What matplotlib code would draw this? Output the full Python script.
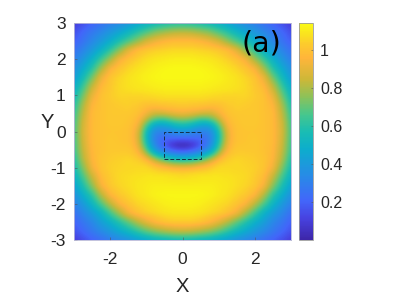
import numpy as np
import matplotlib
matplotlib.use("Agg")
import matplotlib.pyplot as plt
from matplotlib.colors import LinearSegmentedColormap
from matplotlib.patches import Rectangle

plt.rcParams['font.family'] = ['Liberation Sans', 'DejaVu Sans']

half_x = [0, .25, .5, .75, 1, 1.25, 1.5, 1.75, 2, 2.25, 2.5, 2.75, 3]
rows_y = [3, 2.75, 2.5, 2.25, 2, 1.75, 1.5, 1.25, 1, .75, .5, .25, 0, -.25, -.5, -.75, -1,
          -1.25, -1.5, -1.75, -2, -2.25, -2.5, -2.75, -3]
field_right = [
 [.60,.59,.57,.54,.50,.45,.39,.34,.30,.25,.20,.15,.10],
 [.82,.81,.78,.74,.67,.60,.52,.45,.39,.33,.28,.22,.15],
 [.98,.98,.96,.92,.86,.76,.67,.58,.48,.40,.33,.26,.19],
 [1.06,1.06,1.05,1.04,1.02,.98,.89,.75,.62,.50,.40,.32,.25],
 [1.11,1.11,1.10,1.09,1.07,1.04,1.0,.93,.78,.64,.50,.39,.30],
 [1.135,1.135,1.13,1.12,1.10,1.08,1.05,1.01,.94,.78,.60,.47,.36],
 [1.135,1.135,1.135,1.13,1.12,1.10,1.08,1.05,1.01,.91,.72,.55,.41],
 [1.12,1.12,1.12,1.11,1.10,1.09,1.08,1.06,1.02,.97,.83,.64,.48],
 [1.08,1.08,1.08,1.08,1.07,1.07,1.06,1.05,1.03,1.0,.91,.72,.54],
 [1.03,1.03,1.02,1.0,1.0,1.03,1.04,1.03,1.02,1.0,.96,.79,.59],
 [.93,.91,.87,.85,.93,1.0,1.02,1.02,1.02,1.0,.98,.83,.63],
 [.66,.62,.54,.55,.74,.96,1.01,1.02,1.02,1.0,.98,.86,.65],
 [.40,.36,.31,.33,.58,.90,1.0,1.01,1.01,1.0,.98,.87,.66],
 [.14,.16,.20,.30,.57,.90,1.0,1.01,1.02,1.0,.98,.86,.65],
 [.14,.18,.27,.41,.68,.95,1.02,1.02,1.02,1.0,.97,.84,.64],
 [.52,.55,.62,.76,.94,1.03,1.05,1.04,1.03,1.01,.96,.81,.60],
 [.93,.94,.98,1.02,1.06,1.06,1.06,1.05,1.04,1.01,.93,.74,.56],
 [1.07,1.07,1.08,1.09,1.09,1.08,1.07,1.06,1.03,.98,.84,.66,.50],
 [1.11,1.11,1.11,1.11,1.10,1.09,1.07,1.05,1.02,.94,.75,.58,.44],
 [1.13,1.13,1.13,1.12,1.10,1.08,1.05,1.02,.96,.81,.62,.49,.37],
 [1.12,1.12,1.11,1.09,1.07,1.05,1.01,.95,.82,.67,.52,.40,.31],
 [1.09,1.09,1.08,1.06,1.04,1.0,.93,.79,.65,.51,.41,.33,.25],
 [1.03,1.03,1.01,.97,.90,.81,.70,.60,.50,.42,.33,.27,.20],
 [.84,.83,.80,.76,.70,.62,.54,.47,.40,.34,.28,.22,.16],
 [.55,.54,.52,.50,.46,.42,.37,.33,.29,.24,.20,.15,.10],
]
core_x = [0, .125, .25, .375, .5, .625, .75, .875, 1, 1.125, 1.25, 1.375, 1.5]
core_y = [1, .875, .75, .625, .5, .375, .25, .125, 0, -.125, -.25, -.375, -.5, -.625, -.75, -.875, -1, -1.125, -1.25]
core_right = [
 [1.08,1.08,1.08,1.08,1.08,1.07,1.07,1.06,1.06,1.05,1.05,1.05,1.05],
 [1.05,1.05,1.05,1.05,1.05,1.05,1.04,1.04,1.04,1.04,1.04,1.04,1.04],
 [1.03,1.03,1.02,1.02,1.01,1.01,1.0,1.0,1.0,1.01,1.03,1.03,1.04],
 [.98,.98,.97,.97,.96,.95,.94,.95,.97,.99,1.01,1.02,1.03],
 [.92,.91,.90,.88,.86,.85,.85,.88,.93,.97,1.0,1.01,1.02],
 [.79,.78,.76,.73,.70,.70,.72,.77,.85,.93,.98,1.0,1.01],
 [.64,.63,.61,.57,.54,.53,.56,.63,.74,.87,.96,.99,1.01],
 [.51,.50,.47,.43,.41,.40,.42,.51,.64,.80,.93,.98,1.0],
 [.38,.38,.36,.33,.32,.32,.34,.43,.58,.75,.90,.97,1.0],
 [.27,.27,.26,.25,.25,.27,.31,.40,.56,.73,.89,.97,1.0],
 [.14,.14,.16,.17,.20,.24,.30,.41,.57,.74,.90,.97,1.0],
 [.03,.04,.07,.12,.19,.25,.33,.45,.61,.78,.92,.98,1.01],
 [.14,.15,.18,.22,.27,.32,.41,.53,.68,.84,.95,1.0,1.02],
 [.32,.33,.35,.38,.42,.48,.56,.67,.80,.92,.99,1.02,1.03],
 [.52,.53,.55,.58,.62,.68,.76,.85,.94,1.0,1.03,1.04,1.05],
 [.74,.75,.76,.79,.83,.87,.92,.98,1.02,1.04,1.05,1.05,1.06],
 [.93,.93,.94,.96,.98,1.0,1.02,1.04,1.06,1.06,1.06,1.06,1.06],
 [1.03,1.04,1.04,1.05,1.05,1.05,1.06,1.07,1.07,1.07,1.07,1.06,1.06],
 [1.07,1.07,1.08,1.08,1.09,1.09,1.09,1.09,1.09,1.08,1.08,1.08,1.07],
]
x_ticks = [-2, 0, 2]
y_ticks = [-3, -2, -1, 0, 1, 2, 3]
cbar_ticks = [.2, .4, .6, .8, 1]
cbar_labels = ['0.2', '0.4', '0.6', '0.8', '1']
box_x = [-.5, .5]
box_y = [-.75, 0]

parula = LinearSegmentedColormap.from_list('parula', [
 (0.00, (.24,.15,.66)), (0.10, (.28,.26,.88)), (0.18, (.26,.40,.98)),
 (0.30, (.15,.55,.90)), (0.42, (.05,.68,.80)), (0.50, (.10,.74,.70)),
 (0.58, (.28,.78,.55)), (0.66, (.55,.76,.35)), (0.74, (.80,.72,.22)),
 (0.84, (1.0,.71,.23)), (0.90, (.99,.79,.18)), (0.95, (.98,.89,.12)), (1.00, (.98,.98,.08))], N=256)

# place the coarse table and the finer centre table on one 0.125-step image
fine_x = np.arange(0, 3.0001, .125)
fine_y = np.arange(3, -3.0001, -.125)
coarse = np.array(field_right)
by_col = np.array([np.interp(fine_x, half_x, r) for r in coarse])
grid = np.array([np.interp(-fine_y, -np.array(rows_y), c) for c in by_col.T]).T
ix = np.searchsorted(fine_x, core_x)
iy = np.searchsorted(-fine_y, -np.array(core_y))
grid[np.ix_(iy, ix)] = np.array(core_right)
full = np.hstack([grid[:, :0:-1], grid])

W, H = 395, 297
fig = plt.figure(figsize=(W/100, H/100), dpi=100)
ax = fig.add_axes([74/W, 1-240/H, 217/W, 217/H])
im = ax.imshow(full, extent=[-3.0625, 3.0625, -3.0625, 3.0625], origin='upper', cmap=parula,
               vmin=.003, vmax=1.14, interpolation='bicubic', aspect='auto')
ax.set_xlim(-3, 3); ax.set_ylim(-3, 3)
ax.set_xticks(x_ticks); ax.set_yticks(y_ticks)
ax.set_xticklabels([str(v) for v in x_ticks]); ax.set_yticklabels([str(v) for v in y_ticks])
ax.tick_params(labelsize=12.5, length=2, width=.4, direction='in', color='#555555',
               labelcolor='#262626')
ax.tick_params(axis='x', pad=9)
ax.tick_params(axis='y', pad=6)
ax.set_xlabel('X', fontsize=14.5, color='#262626', labelpad=6.5)
ax.set_ylabel('Y', fontsize=14.5, color='#262626', rotation=0, labelpad=2)
for s in ax.spines.values():
    s.set_color('#b8b8d8'); s.set_linewidth(.6)
ax.add_patch(Rectangle((box_x[0], box_y[0]), box_x[1]-box_x[0], box_y[1]-box_y[0], fill=False,
                       ec='#15304a', lw=.7, ls=(0, (4, 2))))
ax.text(.955, .97, '(a)', transform=ax.transAxes, ha='right', va='top', fontsize=20.5,
        family='DejaVu Sans', color='black')

cax = fig.add_axes([299/W, 1-240/H, 14/W, 217/H])
cb = fig.colorbar(im, cax=cax)
cb.set_ticks(cbar_ticks); cb.set_ticklabels(cbar_labels)
cb.ax.tick_params(labelsize=11.5, length=1.5, width=.4, direction='in', color='#555555',
                  labelcolor='#262626', pad=5)
cb.outline.set_edgecolor('#9a9a9a'); cb.outline.set_linewidth(.6)
fig.savefig('out.png', dpi=100)
